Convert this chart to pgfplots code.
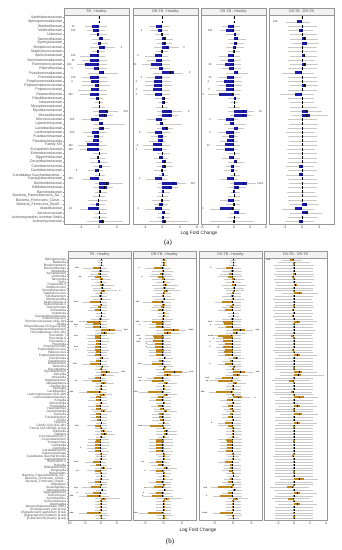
\documentclass[border=0pt]{standalone}
\usepackage{pgfplots}
\pgfplotsset{compat=1.18}
\usepackage{pgfplotstable}
\usepackage{fontspec}
\setmainfont{Liberation Sans}
\newfontfamily\capfont{Liberation Serif}

\definecolor{boxA}{RGB}{28,28,165}
\definecolor{boxB}{RGB}{190,135,30}
\definecolor{wcol}{RGB}{200,200,200}
\definecolor{frame}{RGB}{150,150,150}
\definecolor{txt}{RGB}{77,77,77}
\definecolor{stripfill}{RGB}{242,242,242}
\newcommand{\dd}{.\kern0.02em.\kern0.02em.}

% ---------- panel (a) ----------
\pgfplotstableread{
l a m b u
-0.2 0 0 0 0.2
-0.2 0 0 0 0.2
-3.1 -1.6 -0.3 0 1.7
-2.6 -1.4 -0.3 0 1.3
-2.0 -0.4 -0.3 -0.2 1.7
-1.6 0 0.6 0.8 2.5
-1.3 -0.2 0.3 0.4 2.1
-2.0 0 0.9 1.3 3.6
-1.6 -0.4 -0.3 -0.2 1.3
-4.2 -2.1 -0.3 0 1.3
-3.8 -2.0 -0.3 0 1.7
-5.0 -3.1 -0.3 0 1.7
-3.1 -1.0 -0.2 0 1.7
-2.4 0 0.9 1.2 4.3
-3.8 -1.9 -0.3 0 1.7
-3.8 -1.8 -0.3 0 2.1
-3.8 -0.9 -0.2 0 2.4
-4.6 -1.8 -0.3 0 1.7
-4.2 -2.1 -0.3 0 1.7
-2.0 -0.7 -0.2 0 1.0
-0.9 -0.1 0 0.1 1.0
-1.6 -0.1 0 0.1 1.3
-1.3 0 1.6 2.1 4.3
-0.9 0 1.2 1.7 3.2
-3.8 -1.8 -0.3 0 1.0
-1.3 0 0.6 1.0 5.8
-1.3 0 0.8 1.1 2.4
-3.5 -1.6 -0.3 0 1.7
-2.7 -1.0 -0.2 0 1.0
-3.1 -1.3 -0.3 0 0.6
-4.6 -2.6 -0.3 0 1.7
-4.2 -2.6 -0.3 0 1.0
-1.3 -0.1 0 0.1 1.7
-2.0 -0.5 -0.2 0 1.3
-2.0 -0.3 0.1 0.2 2.1
-1.3 0 0.4 0.6 2.4
-2.4 -0.9 -0.2 0 1.0
-0.9 -0.1 0 0.1 1.3
-3.8 -2.0 -0.3 0 1.0
-0.9 0 1.7 2.2 5.4
-1.3 0 1.2 1.7 3.2
-0.9 0 0.2 0.4 1.7
-1.3 -0.1 0 0.1 1.3
-2.4 -0.3 -0.2 0 1.7
-2.0 -0.7 -0.2 0 1.3
-4.2 -2.4 -0.3 0 1.7
-0.9 -0.1 0 0.1 1.7
-1.3 -0.1 0 0.1 1.7
-2.7 0 0.8 1.2 5.4
}\TAa
\pgfplotstableread{
y x s
3 -5.7 **
4 -5.7 ***
8 5.0 *
10 -5.7 ***
11 -5.7 **
12 -6.6 ***
13 -6.0 *
15 -5.7 ***
16 -6.0 *
19 -6.3 ***
23 6.0 ***
25 -6.0 ***
28 -6.0 ***
31 -6.3 ***
32 -6.3 ***
37 -5.0 *
39 -6.3 ***
46 -6.3 **
}\SAa

\pgfplotstableread{
l a m b u
-0.2 0 0 0 0.2
-0.2 0 0 0 0.2
-3.0 -1.4 -0.3 0 1.5
-2.8 -1.1 -0.3 0 1.3
-1.8 -0.3 -0.1 0.1 1.5
-1.5 0 0.4 0.7 2.5
-1.3 0 0.5 0.8 2.3
-2.0 0 1.0 1.6 3.8
-1.5 -0.3 -0.1 0.1 1.3
-4.0 -1.8 -0.3 0 1.3
-3.5 -1.4 -0.3 0 1.7
-4.8 -2.6 -0.3 0 1.7
-2.8 -0.8 -0.2 0 1.7
-2.2 0 1.8 2.7 4.8
-3.8 -1.8 -0.3 0 1.7
-4.0 -2.0 -0.3 0 2.0
-4.0 -2.0 -0.3 0 2.2
-4.5 -2.2 -0.3 0 1.7
-4.0 -1.8 -0.3 0 1.7
-1.8 0 0.3 0.5 1.5
-1.0 0 0.3 0.5 1.3
-1.5 -0.1 0 0.1 1.3
-1.3 0 1.6 2.3 4.5
-1.0 0 1.6 2.3 3.5
-3.5 -1.4 -0.3 0 1.0
-1.5 -0.5 0 0.1 4.5
-1.3 0 0.8 1.2 2.5
-3.5 -1.8 -0.3 0 1.7
-2.7 -1.1 -0.2 0 1.0
-3.0 -1.1 -0.2 0 0.8
-4.5 -2.3 -0.3 0 1.7
-4.2 -2.3 -0.3 0 1.0
-1.3 -0.1 0 0.1 1.7
-2.0 -0.7 -0.2 0 1.3
-1.5 0 0.5 0.8 2.3
-1.3 0 0.4 0.7 2.4
-2.0 -0.3 -0.1 0 1.0
-0.9 0 0.2 0.4 1.3
-3.8 -1.8 -0.3 0 1.0
-1.0 0 2.5 3.4 5.5
-1.3 0 1.5 2.2 3.5
-1.0 0 0.2 0.3 1.7
-1.3 -0.1 0 0.1 1.3
-2.4 -0.3 -0.1 0 1.7
-2.0 -0.8 -0.2 0 1.3
-4.0 -1.8 -0.3 0 1.7
-1.0 0 0.3 0.6 1.7
-1.3 0 0.2 0.4 1.7
-3.0 0 0.5 0.8 6.0
}\TAb
\pgfplotstableread{
y x s
4 -4.8 *
8 5.0 *
10 -5.6 *
12 -6.3 **
14 6.3 *
15 -4.8 *
16 -6.0 *
18 -6.0 *
19 -6.0 *
23 6.1 *
28 -5.2 *
31 -5.8 *
32 -6.0 *
39 -5.2 *
40 7.0 ***
46 -5.6 *
}\SAb

\pgfplotstableread{
l a m b u
-0.2 0 0 0 0.2
-0.2 0 0 0 0.2
-3.0 -1.4 -0.3 0 1.5
-3.5 -2.0 -0.3 0 1.5
-2.0 0 0.2 0.3 1.5
-1.5 0 0.8 1.1 3.0
-1.3 0 0.5 0.7 2.5
-2.0 -0.3 0.2 0.5 2.5
-1.5 -0.2 0 0.1 1.5
-3.8 -1.4 -0.3 0 1.5
-3.5 -1.4 -0.3 0 1.7
-4.5 -2.25 -0.3 0 1.7
-3.0 -1.2 -0.2 0 1.7
-2.0 0 0.8 1.1 3.5
-4.0 -1.8 -0.3 0 1.7
-4.5 -2.5 -0.3 0 2.0
-4.0 -2.0 -0.3 0 2.0
-4.5 -2.0 -0.3 0 1.7
-6.5 -3.7 -0.4 0 1.5
-1.5 0 0.2 0.3 1.5
-1.0 -0.1 0 0.1 1.0
-1.5 -0.1 0 0.1 1.5
-1.5 0 2.2 3.3 5.0
-1.0 0 2.2 3.3 4.5
-4.0 -2.0 -0.3 0 1.0
-2.5 -1.0 -0.2 0 3.0
-1.5 0 0.8 1.1 2.5
-4.0 -2.0 -0.3 0 1.5
-3.0 -1.2 -0.2 0 1.0
-3.5 -1.8 -0.3 0 1.0
-4.5 -2.25 -0.3 0 1.5
-4.5 -2.25 -0.3 0 1.0
-1.5 -0.1 0 0.1 1.5
-3.0 -1.2 -0.2 0 1.5
-1.5 0 0.5 0.8 2.5
-2.0 -0.75 -0.2 0 1.5
-2.5 -0.75 -0.2 0 1.0
-1.0 -0.1 0 0.1 1.5
-3.5 -1.8 -0.3 0 1.0
-1.0 0 2.2 3.3 5.5
-1.5 0 0.9 1.3 3.0
-1.0 -0.3 -0.1 0 1.5
-1.5 -0.1 0 0.1 1.5
-3.5 -1.4 -0.3 0 1.5
-2.0 -0.2 0 0.1 1.5
-6.0 -3.5 -0.4 0 1.5
-1.0 0 0.9 1.3 3.0
-1.5 -0.1 0 0.1 1.5
-6.0 -0.2 0 0.2 5.0
}\TAc
\pgfplotstableread{
y x s
4 -6.0 ***
12 -6.0 **
15 -6.0 **
16 -6.4 *
18 -6.2 *
19 -7.7 *
23 6.6 **
25 -6.0 *
28 -6.0 *
31 -6.4 **
40 6.6 ****
46 -7.7 *
}\SAc

\pgfplotstableread{
l a m b u
-0.2 0 0 0 0.2
-2.8 -0.9 -0.2 0 1.3
-2.5 -0.1 0 0.1 2.5
-2.5 -0.6 -0.1 0 1.8
-2.0 -0.1 0 0.1 2.5
-2.0 0 0.4 0.7 2.8
-1.8 0 0.5 0.8 3.0
-2.5 -0.1 0 0.1 2.5
-2.5 -0.1 0 0.1 2.5
-2.0 0 0.3 0.5 2.5
-2.5 -0.1 0 0.1 2.3
-2.0 0 0.4 0.7 2.8
-2.5 -0.1 0 0.1 2.5
-3.5 -1.2 -0.2 0 2.0
-2.5 -0.1 0 0.1 2.5
-2.5 -0.1 0 0.1 2.5
-2.0 0 0.4 0.7 2.8
-2.5 -0.1 0 0.1 2.5
-3.8 -1.3 -0.2 0 2.0
-2.5 -0.1 0 0.1 2.0
-2.0 -0.1 0 0.1 2.0
-2.0 -0.1 0 0.1 2.5
-2.0 0 0.7 1.1 3.5
-1.8 0 0.8 1.3 4.5
-2.5 -0.1 0 0.1 2.5
-2.3 -0.1 0 0.1 2.7
-2.5 -0.1 0 0.1 2.5
-2.7 -0.1 0 0.1 2.3
-2.5 -0.1 0 0.1 2.5
-2.2 -0.1 0 0.1 2.6
-2.5 -0.1 0 0.1 2.5
-2.6 -0.1 0 0.1 2.2
-2.5 -0.1 0 0.1 2.5
-2.4 -0.1 0 0.1 2.6
-2.5 -0.1 0 0.1 2.5
-2.8 -0.6 -0.1 0 2.0
-2.5 -0.1 0 0.1 2.5
-2.8 -0.6 -0.1 0 2.0
-2.5 -0.1 0 0.1 2.5
-2.3 -0.1 0 0.1 2.7
-2.5 -0.1 0 0.1 2.5
-2.6 -0.1 0 0.1 2.3
-2.5 -0.1 0 0.1 2.5
-2.5 -0.1 0 0.1 2.5
-2.0 0 0.5 0.8 3.0
-3.5 -1.2 -0.2 0 2.0
-2.0 0 0.7 1.1 3.5
-2.5 -0.1 0 0.1 2.5
-3.0 -0.6 -0.1 0 2.0
}\TAd
\pgfplotstableread{
y x s
2 -4.6 ***
}\SAd

% ---------- panel (b) ----------
\pgfplotstableread{
l a m b u
-0.8 -0.1 0 0.1 0.8
-0.8 -0.1 0 0.1 0.8
-1.0 -0.1 0 0.1 1.0
-5.5 -2.5 -0.3 0 2.0
-3.0 -0.5 -0.2 0.2 2.5
-3.5 -1.0 -0.3 0 2.0
-4.0 -1.8 -0.3 0 2.5
-3.0 -0.3 0.2 0.5 3.0
-2.0 -0.2 0 0.2 2.0
-3.0 -0.2 0.5 0.9 4.0
-2.5 -0.1 0.3 0.5 3.0
-2.5 0 0.8 1.2 5.0
-2.0 -0.2 0 0.2 2.0
-3.0 -0.5 -0.1 0.1 2.0
-2.5 -0.2 0.1 0.3 3.0
-6.0 -3.4 -0.3 0 2.0
-2.5 -0.3 0 0.2 2.0
-3.5 -1.0 -0.2 0 2.0
-4.0 -2.0 -0.3 0 2.0
-1.5 -0.1 0 0.1 1.5
-1.5 -0.1 0 0.1 1.5
-3.0 -0.5 -0.1 0.1 2.5
-7.0 -4.3 -0.4 0 2.0
-5.0 -2.4 -0.3 0 2.0
-5.0 -2.6 -0.3 0 2.0
-2.0 0 2.5 4.4 6.5
-2.0 0 1.0 1.8 4.5
-4.5 -1.9 -0.3 0 2.0
-4.5 -1.9 -0.3 0 2.5
-4.0 -1.7 -0.3 0 2.5
-4.0 -1.6 -0.3 0 2.0
-4.5 -1.9 -0.3 0 2.0
-4.5 -1.9 -0.3 0 2.5
-4.0 -1.7 -0.3 0 2.0
-4.5 -1.9 -0.3 0 2.0
-1.5 -0.3 0.3 0.7 2.5
-3.5 -1.4 -0.3 0 2.0
-6.0 -3.4 -0.3 0 2.0
-1.5 0 0.3 0.7 2.5
-2.0 -0.2 0 0.2 2.0
-1.5 0 1.6 2.8 5.5
-2.0 0 0.8 1.6 4.0
-4.0 -1.9 -0.3 0 1.5
-5.5 -2.9 -0.3 0 2.0
-1.5 0 0.8 1.6 4.0
-2.0 -0.2 0 0.2 2.0
-2.0 -0.2 0 0.2 2.0
-7.0 -4.3 -0.4 0 2.0
-2.0 -0.3 0.6 1.2 3.5
-3.5 -1.4 -0.3 0 2.0
-4.0 -1.6 -0.3 0 2.0
-2.0 -0.2 0 0.2 2.0
-4.0 -1.7 -0.3 0 2.5
-3.0 -1.4 -0.3 0 2.0
-2.5 -0.1 0.6 1.2 3.5
-3.5 -1.4 -0.3 0 2.0
-3.5 -1.4 -0.3 0 2.0
-3.0 -1.1 -0.2 0 2.0
-1.5 -0.1 0 0.1 1.5
-4.5 -1.9 -0.3 0 2.0
-2.0 -0.2 0 0.2 2.0
-2.0 0 0.7 1.2 3.5
-2.0 0 1.0 1.8 4.5
-1.5 -0.2 0 0.2 1.5
-4.0 -1.6 -0.3 0 2.5
-4.0 -1.9 -0.3 0 2.5
-4.5 -1.9 -0.3 0 2.5
-4.5 -1.9 -0.3 0 2.0
-4.0 -1.9 -0.3 0 2.5
-2.0 -0.2 0 0.2 2.0
-1.5 -0.1 0 0.1 1.5
-2.0 -0.2 0 0.2 2.0
-5.0 -2.4 -0.3 0 1.5
-3.5 -1.6 -0.3 0 2.0
-2.0 0 0.7 1.2 3.5
-4.5 -1.9 -0.3 0 2.0
-2.0 -0.2 0 0.2 2.0
-1.5 -0.1 0 0.1 1.5
-2.0 -0.2 0 0.2 2.5
-4.0 -1.9 -0.3 0 2.0
-2.0 -0.2 0 0.2 2.0
-6.0 -3.2 -0.3 0 2.0
-1.5 0 0.3 0.7 2.0
-5.0 -2.4 -0.3 0 2.0
-7.0 -4.3 -0.4 0 2.5
-2.0 0 0.8 1.6 6.0
-2.0 -0.2 0 0.2 2.0
-2.0 -0.2 0 0.2 2.0
-2.0 -0.2 0 0.2 2.0
-2.0 -0.2 0 0.2 2.0
-7.0 -4.3 -0.4 0 2.0
-2.0 -0.2 0 0.2 2.5
-1.5 -0.1 0 0.1 1.5
}\TBa
\pgfplotstableread{
y x s
4 -7.5 ***
7 -6.5 **
12 6.0 *
16 -7.8 ***
23 -9.2 ***
24 -7.8 ***
25 -7.8 *
26 7.8 ***
28 -7.8 ***
32 -7.8 ***
33 -7.8 *
38 -8.1 ***
41 7.0 ***
44 -7.8 **
48 -9.2 ***
60 -7.5 ***
68 -6.3 *
73 -7.8 ***
76 -7.3 **
82 -7.8 ***
84 -7.4 *
85 -9.2 ***
91 -9.2 ***
}\SBa

\pgfplotstableread{
l a m b u
-0.8 -0.1 0 0.1 0.8
-0.8 -0.1 0 0.1 0.8
-1.0 -0.1 0 0.1 1.0
-5.0 -2.5 -0.3 0 2.0
-3.0 -0.5 -0.2 0.2 2.5
-3.5 -1.0 -0.3 0 2.0
-4.0 -1.5 -0.3 0 2.5
-3.0 -0.3 0.2 0.5 3.0
-2.0 -0.2 0 0.2 2.0
-3.0 -0.2 0.5 0.9 4.0
-2.5 -0.1 0.3 0.5 3.0
-2.5 0 0.7 1.1 4.5
-2.0 -0.2 0 0.2 2.0
-3.0 -0.5 -0.1 0.1 2.0
-2.5 -0.2 0.1 0.3 3.0
-5.5 -3.2 -0.3 0 2.0
-2.5 -0.3 0 0.2 2.0
-3.0 -0.8 -0.2 0 2.0
-3.5 -1.5 -0.3 0 2.0
-1.5 -0.1 0 0.1 1.5
-1.5 -0.1 0 0.1 1.5
-3.0 -0.5 -0.1 0.1 2.5
-5.5 -3.0 -0.3 0 2.0
-4.0 -1.9 -0.3 0 2.0
-4.0 -1.9 -0.3 0 2.0
-2.0 0 2.5 4.2 6.0
-2.0 0 1.0 2.0 4.5
-5.0 -2.8 -0.3 0 2.0
-5.0 -2.6 -0.3 0 2.0
-5.0 -2.8 -0.3 0 2.0
-4.5 -2.4 -0.3 0 2.0
-4.5 -2.4 -0.3 0 2.0
-4.0 -1.9 -0.3 0 2.0
-4.0 -1.9 -0.3 0 2.0
-4.0 -1.9 -0.3 0 2.0
-1.5 0 0.3 0.7 2.5
-3.0 -1.2 -0.3 0 2.0
-5.5 -3.2 -0.3 0 2.0
-1.5 0 0.3 0.7 2.5
-2.0 -0.2 0 0.2 2.0
-1.5 0 2.8 4.9 6.5
-2.0 0 1.0 2.0 4.5
-4.5 -2.6 -0.3 0 1.5
-5.5 -3.2 -0.3 0 2.0
-1.5 0 0.6 1.1 3.5
-2.0 -0.2 0 0.2 2.0
-2.0 -0.2 0 0.2 2.0
-6.5 -4.1 -0.4 0 2.0
-2.0 0 0.6 1.1 3.5
-3.5 -1.5 -0.3 0 2.0
-4.0 -1.9 -0.3 0 2.0
-2.0 -0.2 0 0.2 2.0
-3.5 -1.5 -0.3 0 2.0
-2.5 -0.9 -0.2 0 2.0
-2.5 0 0.5 1.0 3.5
-3.0 -1.2 -0.3 0 2.0
-3.0 -1.2 -0.3 0 2.0
-3.0 -1.0 -0.2 0 2.0
-1.5 -0.1 0 0.1 1.5
-6.0 -3.7 -0.3 0 2.0
-2.0 -0.2 0 0.2 2.0
-2.0 0 0.6 1.1 3.5
-2.0 0 0.6 1.1 3.5
-1.5 -0.2 0 0.2 1.5
-4.0 -1.9 -0.3 0 2.5
-4.0 -1.9 -0.3 0 2.5
-4.0 -1.9 -0.3 0 2.5
-4.0 -1.9 -0.3 0 2.0
-4.0 -1.9 -0.3 0 2.5
-2.0 -0.2 0 0.2 2.0
-1.5 -0.1 0 0.1 1.5
-2.0 -0.2 0 0.2 2.0
-4.0 -1.9 -0.3 0 1.5
-3.5 -1.5 -0.3 0 2.0
-2.0 0 0.6 1.1 3.5
-4.0 -1.9 -0.3 0 2.0
-2.0 -0.2 0 0.2 2.0
-1.5 -0.1 0 0.1 1.5
-2.0 -0.2 0 0.2 2.5
-4.0 -1.9 -0.3 0 2.0
-2.0 -0.2 0 0.2 2.0
-5.0 -2.6 -0.3 0 2.0
-1.5 0 0.3 0.7 2.5
-4.0 -1.9 -0.3 0 2.0
-5.5 -3.2 -0.3 0 2.5
-2.0 0 0.8 1.5 5.0
-2.0 -0.2 0 0.2 2.0
-2.0 -0.2 0 0.2 2.0
-2.0 -0.2 0 0.2 2.0
-2.0 -0.2 0 0.2 2.0
-6.5 -4.1 -0.4 0 2.0
-2.0 -0.2 0 0.2 2.5
-1.5 -0.1 0 0.1 1.5
}\TBb
\pgfplotstableread{
y x s
4 -6.5 *
7 -5.8 *
16 -7.0 ***
23 -7.0 ***
24 -6.3 *
26 7.4 ****
28 -6.8 ***
29 -6.3 **
30 -6.8 ***
31 -4.6 *
32 -4.6 *
38 -6.3 ***
41 7.4 ***
43 -6.3 ***
44 -6.3 **
48 -7.4 ***
60 -6.3 ***
73 -5.6 **
76 -5.0 *
82 -5.0 *
84 -5.4 *
85 -5.6 *
91 -7.4 ***
}\SBb

\pgfplotstableread{
l a m b u
-0.8 -0.1 0 0.1 0.8
-0.8 -0.1 0 0.1 0.8
-1.0 -0.1 0 0.1 1.0
-4.5 -2.0 -0.3 0 2.0
-3.0 -0.5 -0.2 0.2 2.5
-3.5 -1.0 -0.3 0 2.0
-4.0 -1.5 -0.3 0 2.5
-2.5 -0.3 0.2 0.5 3.0
-2.0 -0.2 0 0.2 2.0
-3.0 -0.2 0.5 0.9 3.5
-2.5 -0.1 0.3 0.5 3.0
-2.0 0 0.3 0.5 3.0
-2.0 -0.2 0 0.2 2.0
-3.0 -0.5 -0.1 0.1 2.0
-2.5 -0.2 0.1 0.3 3.0
-5.0 -3.0 -0.3 0 2.0
-2.0 -0.2 0 0.2 2.0
-3.0 -0.8 -0.2 0 2.0
-4.0 -2.2 -0.3 0 2.0
-1.5 -0.1 0 0.1 1.5
-1.5 -0.1 0 0.1 1.5
-3.0 -0.5 -0.1 0.1 2.5
-5.0 -2.6 -0.3 0 2.0
-5.0 -2.4 -0.3 0 2.0
-4.0 -1.9 -0.3 0 2.0
-2.0 0 2.0 3.2 5.5
-2.0 0 0.8 1.4 3.5
-6.0 -4.0 -0.4 0 2.0
-4.5 -2.6 -0.3 0 2.0
-4.5 -2.6 -0.3 0 2.0
-4.0 -2.2 -0.3 0 2.0
-4.5 -2.6 -0.3 0 2.0
-4.0 -2.2 -0.3 0 2.0
-4.0 -2.4 -0.3 0 2.0
-4.0 -2.2 -0.3 0 2.0
-1.5 0 0.8 1.4 3.0
-3.0 -0.8 -0.2 0 2.0
-4.0 -2.2 -0.3 0 2.0
-1.5 0 0.2 0.5 2.5
-2.0 -0.2 0 0.2 2.0
-1.5 0 2.0 3.2 5.5
-2.0 0 1.0 1.9 4.0
-5.0 -3.1 -0.3 0 1.5
-6.5 -4.2 -0.4 0 2.0
-1.5 0 0.5 1.0 3.5
-2.0 -0.2 0 0.2 2.0
-2.0 -0.2 0 0.2 2.0
-6.5 -4.6 -0.4 0 2.0
-2.0 -0.2 0 0.2 2.0
-1.5 0 1.3 2.3 4.5
-3.5 -1.7 -0.3 0 2.0
-2.0 -0.2 0 0.2 2.0
-3.0 -1.3 -0.3 0 2.0
-2.5 -0.8 -0.2 0 2.0
-2.0 -0.2 0 0.2 2.0
-3.0 -0.9 -0.2 0 2.0
-3.0 -1.3 -0.3 0 2.0
-2.0 -0.2 0 0.2 2.0
-4.0 -2.2 -0.3 0 2.0
-4.0 -1.5 -0.3 0 2.0
-2.0 -0.2 0 0.2 2.0
-2.0 -0.2 0 0.2 2.5
-2.0 -0.2 0.1 0.3 2.5
-1.5 -0.2 0 0.2 1.5
-4.0 -1.9 -0.3 0 2.5
-3.5 -1.7 -0.3 0 2.5
-3.5 -1.7 -0.3 0 2.5
-3.5 -1.7 -0.3 0 2.0
-4.0 -1.9 -0.3 0 2.5
-2.0 -0.2 0 0.2 2.0
-1.5 -0.1 0 0.1 1.5
-2.0 -0.2 0 0.2 2.0
-4.0 -2.2 -0.3 0 1.5
-2.5 -0.8 -0.2 0 2.0
-2.5 -0.8 -0.2 0 2.0
-3.0 -1.2 -0.3 0 2.0
-2.0 -0.2 0 0.2 2.0
-1.5 -0.1 0 0.1 1.5
-2.5 -0.8 -0.2 0 2.0
-3.0 -1.3 -0.3 0 2.0
-2.0 -0.2 0 0.2 2.0
-6.0 -4.0 -0.4 0 2.0
-1.5 0 0.4 0.8 2.5
-3.0 -1.3 -0.3 0 2.0
-5.5 -3.5 -0.3 0 2.5
-1.5 0 0.8 1.4 4.0
-2.0 -0.2 0 0.2 2.0
-2.0 -0.2 0 0.2 2.0
-2.0 -0.2 0 0.2 2.0
-2.0 -0.2 0 0.2 2.0
-5.5 -3.5 -0.3 0 2.0
-2.0 -0.2 0 0.2 2.5
-1.5 -0.1 0 0.1 1.5
}\TBc
\pgfplotstableread{
y x s
4 -6.0 *
23 -6.2 ***
24 -6.1 *
26 6.6 ***
28 -6.2 ***
29 -5.3 *
30 -6.2 *
32 -6.2 *
38 -6.2 *
41 6.6 ***
43 -7.0 ***
44 -7.0 **
48 -8.2 ***
50 6.0 *
59 -5.8 *
82 -7.5 ***
85 -7.1 *
91 -7.6 ****
}\SBc

\pgfplotstableread{
l a m b u
-1.5 -0.5 -0.1 0 1.0
-2.0 -0.1 0 0.1 2.0
-2.5 -0.15 0 0.15 2.5
-2.4 -0.15 0 0.15 2.4
-2.3 -0.15 0 0.15 2.3
-2.5 -0.15 0.1 0.25 2.5
-2.2 -0.3 -0.1 0 2.4
-2.5 -0.15 0 0.15 2.5
-2.4 -0.15 0 0.15 2.2
-2.2 0 0.2 0.4 2.6
-2.4 -0.15 0 0.15 2.4
-2.4 -0.15 0 0.15 2.4
-1.5 0 0.6 1.0 3.0
-2.4 -0.15 0 0.15 2.4
-2.6 -0.15 0 0.15 2.2
-2.4 -0.15 0 0.15 2.4
-2.4 -0.15 0 0.15 2.4
-2.5 -0.15 0 0.15 2.5
-2.6 -0.3 -0.1 0 2.2
-2.4 -0.15 0 0.15 2.4
-2.6 -0.3 -0.1 0 2.2
-2.4 -0.15 0 0.15 2.4
-2.0 0 0.4 0.7 2.8
-2.4 -0.15 0 0.15 2.4
-2.4 -0.15 0 0.15 2.4
-2.2 -0.15 0 0.15 2.6
-2.4 -0.15 0 0.15 2.4
-2.6 -0.4 -0.1 0 2.2
-2.4 -0.15 0 0.15 2.4
-2.4 -0.15 0 0.15 2.4
-2.4 -0.15 0 0.15 2.4
-2.4 -0.15 0 0.15 2.4
-2.6 -0.3 -0.1 0 2.2
-2.4 -0.15 0 0.15 2.4
-2.0 0 0.4 0.7 2.8
-2.4 -0.15 0 0.15 2.4
-2.4 -0.15 0 0.15 2.4
-2.4 -0.15 0 0.15 2.4
-2.4 -0.15 0 0.15 2.4
-2.4 -0.15 0 0.15 2.4
-1.8 0 0.6 1.0 2.8
-1.8 0 0.5 0.9 3.7
-2.4 -0.15 0 0.15 2.4
-2.8 -0.6 -0.1 0 2.0
-2.4 -0.15 0 0.15 2.4
-2.4 -0.15 0 0.15 2.4
-2.4 -0.15 0 0.15 2.4
-2.6 -0.4 -0.1 0 2.2
-2.4 -0.15 0 0.15 2.4
-1.8 0 0.7 1.2 3.0
-2.4 -0.15 0 0.15 2.4
-2.4 -0.15 0 0.15 2.4
-2.0 0 0.4 0.7 2.8
-2.4 -0.15 0 0.15 2.4
-2.4 -0.15 0 0.15 2.4
-1.8 0 0.6 1.0 3.0
-2.4 -0.15 0 0.15 2.4
-2.4 -0.15 0 0.15 2.4
-2.0 0 0.4 0.75 2.8
-2.4 -0.15 0 0.15 2.4
-2.4 -0.15 0 0.15 2.4
-2.4 -0.15 0 0.15 2.4
-2.4 -0.15 0 0.15 2.4
-2.4 -0.15 0 0.15 2.4
-2.5 -0.15 0 0.15 2.3
-2.4 -0.15 0 0.15 2.4
-2.4 -0.15 0 0.15 2.4
-2.4 -0.15 0 0.15 2.4
-2.4 -0.15 0 0.15 2.4
-2.4 -0.15 0 0.15 2.4
-2.6 -0.3 -0.1 0 2.2
-2.4 -0.15 0 0.15 2.4
-2.4 -0.15 0 0.15 2.4
-2.4 -0.15 0 0.15 2.4
-2.4 -0.15 0 0.15 2.4
-2.4 -0.15 0 0.15 2.4
-2.4 -0.15 0 0.15 2.4
-2.4 -0.15 0 0.15 2.4
-1.8 0 0.7 1.2 3.0
-2.4 -0.15 0 0.15 2.4
-2.4 -0.15 0 0.15 2.4
-3.0 -0.9 -0.2 0 1.8
-2.4 -0.15 0 0.15 2.4
-2.0 0 0.4 0.75 2.8
-2.4 -0.15 0 0.15 2.4
-2.8 -0.7 -0.1 0 2.0
-2.4 -0.15 0 0.15 2.4
-2.0 0 0.4 0.75 2.8
-2.4 -0.15 0 0.15 2.4
-2.4 -0.15 0 0.15 2.4
-2.4 -0.15 0 0.15 2.4
-2.4 -0.15 0 0.15 2.4
-2.4 -0.15 0 0.15 2.4
}\TBd
\pgfplotstableread{
y x s
1 -3.2 ***
}\SBd

\pgfplotsset{
  facet/.style={
    scale only axis, y dir=reverse, clip=false,
    axis line style={draw=frame, line width=0.4pt},
    tick align=outside, major tick length=1.1pt,
    tick style={draw=frame, line width=0.3pt},
    xtick pos=bottom, ytick pos=left,
    xticklabel style={font=\fontsize{3.6}{3.6}\selectfont, text=txt, inner sep=0.6pt},
    yticklabel style={text=txt, inner sep=0.6pt},
    /pgf/number format/assume math mode=true,
    every axis title/.style={at={(0.5,1)}, anchor=south, draw=frame, line width=0.4pt,
      fill=stripfill, inner sep=0pt, text=txt, font=\fontsize{3.6}{3.6}\selectfont,
      text height=2.6pt, text depth=0.7pt},
  },
  facetA/.style={facet, width=65pt, height=209pt, ymin=0.4, ymax=49.6,
    yticklabel style={font=\fontsize{3.6}{3.6}\selectfont},
    every axis title/.append style={minimum width=65pt, minimum height=6.8pt}},
  facetB/.style={facet, width=63pt, height=262pt, ymin=0.4, ymax=93.6,
    yticklabel style={font=\fontsize{3.2}{3.2}\selectfont},
    every axis title/.append style={minimum width=63pt, minimum height=6.5pt}},
}

% #1 data, #2 stars, #3 box colour, #4 box thickness, #5 median half-height, #6 star font size, #7 median line width
\newcommand{\facetplots}[7]{%
  \addplot[draw=none, mark=none, forget plot, error bars/.cd, x dir=both, x explicit,
    error mark=none, error bar style={draw=wcol, line width=0.3pt}]
    table[x=m, y expr=\coordindex+1, x error plus expr=\thisrow{u}-\thisrow{m},
      x error minus expr=\thisrow{m}-\thisrow{l}] {#1};
  \addplot[draw=none, mark=none, forget plot, error bars/.cd, x dir=both, x explicit,
    error mark=none, error bar style={draw=#3, line width=#4}]
    table[x=m, y expr=\coordindex+1, x error plus expr=\thisrow{b}-\thisrow{m},
      x error minus expr=\thisrow{m}-\thisrow{a}] {#1};
  \addplot[forget plot, only marks, mark=|, mark size=#5, mark options={draw=black, line width=#7}]
    table[x=m, y expr=\coordindex+1] {#1};
  \addplot[forget plot, draw=none, mark=none, nodes near coords, point meta=explicit symbolic,
    nodes near coords style={font=\fontsize{#6}{#6}\selectfont, text=black, anchor=center,
      inner sep=0pt, yshift=-0.7pt}]
    table[x=x, y=y, meta=s] {#2};
}

\begin{document}
\begin{tikzpicture}
\path[use as bounding box] (0,0) rectangle (341pt,-550pt);

% ===== (a) =====
\begin{axis}[facetA, at={(64pt,-15pt)}, anchor=north west, title={TB - Healthy},
  xmin=-7.8, xmax=6.7, xtick={-4,0,4},
  ytick={1,2,3,4,5,6,7,8,9,10,11,12,13,14,15,16,17,18,19,20,21,22,23,24,25,26,27,28,29,30,31,32,33,34,35,36,37,38,39,40,41,42,43,44,45,46,47,48,49},
  yticklabels={Xanthobacteraceae, Sphingomonadaceae, Weeksellaceae, Veillonellaceae, Unknown,
    Tannerellaceae, Synergistaceae, Streptococcaceae, Staphylococcaceae, Spirochaetaceae,
    Saccharimonadaceae, Ruminococcaceae, Rikenellaceae, Pseudomonadaceae, Prevotellaceae,
    Porphyromonadaceae, Peptostreptococcaceae, Peptococcaceae, Pasteurellaceae, Paludibacteraceae,
    Neisseriaceae, Mycoplasmataceae, Mycobacteriaceae, Moraxellaceae, Micrococcaceae,
    Leptotrichiaceae, Lactobacillaceae, Lachnospiraceae, Fusobacteriaceae, Flavobacteriaceae,
    Family XIII, Erysipelotrichaceae, Enterobacteriaceae, Eggerthellaceae, Corynebacteriaceae,
    Carnobacteriaceae, Cardiobacteriaceae, {Candidatus Saccharibacteria\dd}, Campylobacteraceae, Burkholderiaceae,
    Bifidobacteriaceae, Bacteroidaceae, {Bacteria\_Patescibacteria\_Sa\dd}, {Bacteria\_Firmicutes\_Clostr\dd}, {Bacteria\_Firmicutes\_Bacill\dd},
    Atopobiaceae, Aerococcaceae, Actinomycetales Incertae Sedis, Actinomycetaceae}]
\facetplots{\TAa}{\SAa}{boxA}{3pt}{1.3pt}{3.8}{0.5pt}
\end{axis}
\begin{axis}[facetA, at={(133pt,-15pt)}, anchor=north west, title={DR-TB - Healthy},
  xmin=-6.8, xmax=8.2, xtick={-4,0,4,8}, ytick=\empty]
\facetplots{\TAb}{\SAb}{boxA}{3pt}{1.3pt}{3.8}{0.5pt}
\end{axis}
\begin{axis}[facetA, at={(201pt,-15pt)}, anchor=north west, title={DS-TB - Healthy},
  xmin=-8.25, xmax=8.0, xtick={-8,-4,0,4,8}, ytick=\empty]
\facetplots{\TAc}{\SAc}{boxA}{3pt}{1.3pt}{3.8}{0.5pt}
\end{axis}
\begin{axis}[facetA, at={(269pt,-15pt)}, anchor=north west, title={DS-TB - DR-TB},
  xmin=-5.7, xmax=5.5, xtick={-3,0,3}, ytick=\empty]
\facetplots{\TAd}{\SAd}{boxA}{3pt}{1.3pt}{3.8}{0.5pt}
\end{axis}
\node[font=\fontsize{4.8}{4.8}\selectfont, text=black!85] at (199pt,-233pt) {Log Fold Change};
\node[font=\capfont\fontsize{7}{7}\selectfont] at (168pt,-243pt) {(a)};

% ===== (b) =====
\begin{axis}[facetB, at={(68pt,-258pt)}, anchor=north west, title={TB - Healthy},
  xmin=-10.3, xmax=9.4, xtick={-10,-5,0,5},
  ytick={1,2,3,4,5,6,7,8,9,10,11,12,13,14,15,16,17,18,19,20,21,22,23,24,25,26,27,28,29,30,31,32,33,34,35,36,37,38,39,40,41,42,43,44,45,46,47,48,49,50,51,52,53,54,55,56,57,58,59,60,61,62,63,64,65,66,67,68,69,70,71,72,73,74,75,76,77,78,79,80,81,82,83,84,85,86,87,88,89,90,91,92,93},
  yticklabels={Sphingomonas, Ralstonia, Bradyrhizobium, Brevundimonas, Weeksella,
    Acinetobacter, Veillonella, Tannerella, TM7x, Treponema 2,
    Streptococcus, Stomatobaculum, Staphylococcus, Solobacterium, Shuttleworthia,
    Selenomonas 4, Selenomonas 3, Selenomonas, Schwartzia, Scardovia,
    Saccharimonadaceae, Ruminococcus 2, Ruminococcaceae UCG-014, Rothia, Rikenellaceae RC9 gut group,
    Pseudopropionibacterium, Prevotellaceae UCG-001, Prevotella 7, Prevotella 6, Prevotella 2,
    Prevotella, Porphyromonas, Peptostreptococcus, Peptococcus, Peptoanaerobacter,
    Parvimonas, Paludibacter, Oribacterium, Neisseria, Mycoplasma,
    Mycobacterium, Moryella, Moraxella, Mogibacterium, Megasphaera,
    Leptotrichia, Lautropia, Lactobacillus, Lachnospiraceae UCG-008, Lachnoanaerobaculum,
    Kingella, Johnsonella, Howardella, Haemophilus, Granulicatella,
    Gemella, Fusobacterium, F0332, Filifactor, Family XIII UCG-001,
    Family XIII AD3011 group, Eikenella, Dialister, Corynebacterium 1, Corynebacterium,
    Comamonas, Centipeda, Catonella, Cardiobacterium, Capnocytophaga,
    Candidatus Saccharimonas, Campylobacter, Butyrivibrio 2, Bulleidia, Bifidobacterium,
    Bergeyella, Bacteroides, {Bacteria\_Patescibacteria\_Sa\dd}, {Bacteria\_Firmicutes\_Clostr\dd}, {Bacteria\_Firmicutes\_Bacill\dd},
    Atopobium, Anaeroglobus, Alloprevotella, Aggregatibacter, Actinomyces,
    Actinobacillus, Achromobacter, Abiotrophia, {Absconditabacteriales (SR1)}, {[Eubacterium] yurii group},
    {[Eubacterium] saphenum group}, {[Eubacterium] nodatum group}, {[Eubacterium] brachy group}}]
\facetplots{\TBa}{\SBa}{boxB}{2pt}{0.8pt}{3.3}{0.45pt}
\end{axis}
\begin{axis}[facetB, at={(133pt,-258pt)}, anchor=north west, title={DR-TB - Healthy},
  xmin=-8.2, xmax=8.7, xtick={-5,0,5}, ytick=\empty]
\facetplots{\TBb}{\SBb}{boxB}{2pt}{0.8pt}{3.3}{0.45pt}
\end{axis}
\begin{axis}[facetB, at={(199pt,-258pt)}, anchor=north west, title={DS-TB - Healthy},
  xmin=-9.2, xmax=7.8, xtick={-5,0,5}, ytick=\empty]
\facetplots{\TBc}{\SBc}{boxB}{2pt}{0.8pt}{3.3}{0.45pt}
\end{axis}
\begin{axis}[facetB, at={(264pt,-258pt)}, anchor=north west, title={DS-TB - DR-TB},
  xmin=-3.75, xmax=4.1, xtick={-2,0,2,4}, ytick=\empty]
\facetplots{\TBd}{\SBd}{boxB}{2pt}{0.8pt}{3.3}{0.45pt}
\end{axis}
\node[font=\fontsize{4.8}{4.8}\selectfont, text=black!85] at (198pt,-530pt) {Log Fold Change};
\node[font=\capfont\fontsize{7}{7}\selectfont] at (170pt,-542pt) {(b)};
\end{tikzpicture}
\end{document}
